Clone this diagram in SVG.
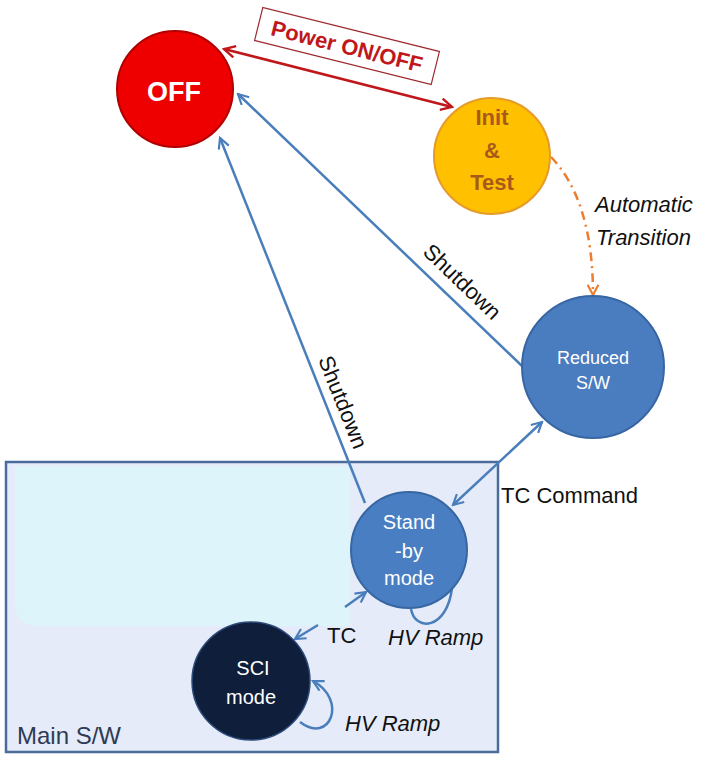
<svg xmlns="http://www.w3.org/2000/svg" width="709" height="761" viewBox="0 0 709 761">
<style>
  text { font-family: "Liberation Sans", Arial, sans-serif; }
  .blue { fill: none; stroke: #4A7EBB; stroke-width: 2.5; }
  .lbl { fill: #111; font-size: 22px; }
  .it { font-style: italic; }
  .wt { fill: #fff; text-anchor: middle; }
  .brn { fill: #A85A1C; text-anchor: middle; font-size: 22px; font-weight: bold; }
</style>
<defs>
  <marker id="arrB" viewBox="0 0 12 12" refX="10.5" refY="6" markerWidth="13" markerHeight="13" markerUnits="userSpaceOnUse" orient="auto-start-reverse">
    <path d="M1,1 L10.5,6 L1,11" fill="none" stroke="#4A7EBB" stroke-width="2"/>
  </marker>
  <marker id="arrR" viewBox="0 0 12 12" refX="10.5" refY="6" markerWidth="14" markerHeight="14" markerUnits="userSpaceOnUse" orient="auto-start-reverse">
    <path d="M1,1 L10.5,6 L1,11" fill="none" stroke="#C0171B" stroke-width="2"/>
  </marker>
  <marker id="arrO" viewBox="0 0 12 12" refX="10.5" refY="6" markerWidth="13" markerHeight="13" markerUnits="userSpaceOnUse" orient="auto">
    <path d="M1,1 L10.5,6 L1,11" fill="none" stroke="#ED7D31" stroke-width="2"/>
  </marker>
</defs>
<rect width="709" height="761" fill="#fff"/>

<g id="main-sw">
  <rect x="6" y="462" width="492" height="290" fill="#E5EBF8" stroke="#4B6C9A" stroke-width="2.5"/>
  <path d="M15,466 L350,466 L350,626 L38,626 Q15,626 15,603 Z" fill="#DDF4FA"/>
  <text x="17" y="744" font-size="24" fill="#2E3B55">Main S/W</text>
</g>

<g id="connectors">
  <line x1="224" y1="49" x2="452" y2="107" stroke="#C0171B" stroke-width="2.5" marker-start="url(#arrR)" marker-end="url(#arrR)"/>
  <line class="blue" x1="522" y1="366" x2="238" y2="94" marker-end="url(#arrB)"/>
  <line class="blue" x1="365" y1="503" x2="220" y2="138" marker-end="url(#arrB)"/>
  <line class="blue" x1="453" y1="505" x2="542" y2="422" marker-start="url(#arrB)" marker-end="url(#arrB)"/>
  <line class="blue" x1="345" y1="607" x2="366" y2="592" marker-end="url(#arrB)"/>
  <line class="blue" x1="318" y1="625" x2="295" y2="639" marker-end="url(#arrB)"/>
  <path class="blue" d="M411,609 C415,632 447,630 452,588"/>
  <path class="blue" d="M300,722 C330,745 348,700 313,681" marker-end="url(#arrB)"/>
  <path d="M551,157 C578,185 593,230 593,295" fill="none" stroke="#ED7D31" stroke-width="2.5" stroke-dasharray="9,5,2,5" marker-end="url(#arrO)"/>
</g>

<g id="power-label" transform="translate(347,46) rotate(14)">
  <rect x="-91" y="-17" width="182" height="34" fill="#fff" stroke="#9E2A2F" stroke-width="1.2"/>
  <text x="0" y="8" font-size="22" font-weight="bold" fill="#C0171B" text-anchor="middle">Power ON/OFF</text>
</g>

<g id="off">
  <circle cx="175" cy="89" r="58" fill="#EE0000" stroke="#B00000" stroke-width="2"/>
  <text class="wt" x="174" y="101" font-size="27" font-weight="bold">OFF</text>
</g>

<g id="init">
  <circle cx="492" cy="156" r="58" fill="#FFC000" stroke="#E69A28" stroke-width="2"/>
  <text class="brn" x="492" y="125">Init</text>
  <text class="brn" x="492" y="158">&amp;</text>
  <text class="brn" x="492" y="190">Test</text>
</g>

<g id="reduced">
  <circle cx="593" cy="367" r="71" fill="#4A7CC0" stroke="#3766A3" stroke-width="2"/>
  <text class="wt" x="593" y="364" font-size="18">Reduced</text>
  <text class="wt" x="593" y="389" font-size="18">S/W</text>
</g>

<g id="standby">
  <circle cx="409" cy="550" r="58" fill="#4A7EC2" stroke="#3766A3" stroke-width="2"/>
  <text class="wt" x="409" y="529" font-size="20">Stand</text>
  <text class="wt" x="409" y="558" font-size="20">-by</text>
  <text class="wt" x="409" y="585" font-size="20">mode</text>
</g>

<g id="sci">
  <circle cx="251" cy="681" r="59" fill="#0F1E3A" stroke="#2A4A7A" stroke-width="1.5"/>
  <text class="wt" x="253" y="675" font-size="20">SCI</text>
  <text class="wt" x="251" y="704" font-size="20">mode</text>
</g>

<g id="labels">
  <text class="lbl" transform="translate(457,287) rotate(43.8)" text-anchor="middle">Shutdown</text>
  <text class="lbl" transform="translate(336,405) rotate(68.3)" text-anchor="middle">Shutdown</text>
  <text class="lbl it" x="595" y="212" font-size="24">Automatic</text>
  <text class="lbl it" x="596" y="245" font-size="24">Transition</text>
  <text class="lbl" x="501" y="503" font-size="23">TC Command</text>
  <text class="lbl" x="327" y="643">TC</text>
  <text class="lbl it" x="388" y="645">HV Ramp</text>
  <text class="lbl it" x="345" y="731">HV Ramp</text>
</g>
</svg>
